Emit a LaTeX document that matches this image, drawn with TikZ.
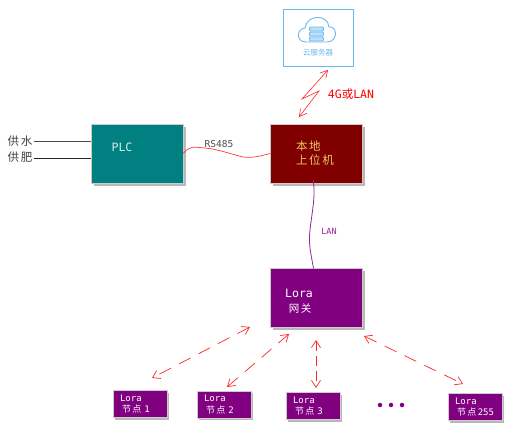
\documentclass[tikz,border=0pt]{standalone}
\usepackage{fontspec}
\usepackage{xcolor}
\usetikzlibrary{arrows.meta,positioning,shadows}
\setmonofont{DejaVu Sans Mono}
\newfontfamily\cjk[LetterSpace=14]{Noto Sans CJK SC}
\newfontfamily\cjkplain{Noto Sans CJK SC}
\definecolor{cloudblue}{RGB}{108,184,238}
\definecolor{hosttext}{RGB}{238,196,104}
\definecolor{lorapurple}{RGB}{128,0,128}
\definecolor{plcteal}{RGB}{0,128,128}
\definecolor{hostred}{RGB}{128,0,0}

\begin{document}
\begin{tikzpicture}[
  x=1pt,y=-1pt,
  bigbox/.style={draw=black!20,line width=0.4pt,minimum width=92pt,minimum height=59pt,inner sep=0pt,
                 drop shadow={shadow xshift=2.5pt,shadow yshift=-2.5pt,fill=black!28,opacity=1}},
  leafbox/.style={draw=black!20,line width=0.4pt,fill=lorapurple,text=white,minimum width=54pt,minimum height=27pt,
                  inner xsep=7pt,inner ysep=0pt,text width=40pt,align=left,font=\ttfamily\fontsize{9}{11.5}\selectfont,
                  drop shadow={shadow xshift=2pt,shadow yshift=-2pt,fill=black!28,opacity=1}},
  boxtext/.style={font=\ttfamily\fontsize{11.5}{14}\selectfont,align=left,inner sep=0pt},
  sidetext/.style={font=\cjk\fontsize{11.5}{14}\selectfont,text=black!75,inner sep=1pt},
  wire/.style={line width=0.7pt},
  radio/.style={red!85!white,line width=0.7pt,dash pattern=on 13pt off 9pt,{Straight Barb[length=7pt,width=9pt]}-{Straight Barb[length=7pt,width=9pt]}},
  cloudline/.style={cloudblue,line width=0.9pt,line join=round}
]
  % boxes
  \node[bigbox,fill=plcteal]    (plc)  at (137,153.5) {};
  \node[bigbox,fill=hostred]    (host) at (316.5,153.5) {};
  \node[bigbox,fill=lorapurple] (gate) at (316.5,298) {};
  \node[draw=cloudblue,line width=0.9pt,fill=white,minimum width=70pt,minimum height=57pt] (cloud) at (318,37.5) {};

  \node[boxtext,text=white!85!plcteal] (plctext) at (122,147) {PLC};
  \node[boxtext,text=hosttext,font=\cjk\fontsize{11.5}{14}\selectfont] (hosttxt) at (315,153) {本地\\上位机};
  \node[boxtext,text=white] (gatetxt) at (299,301) {Lora\\[1pt]{\cjk\fontsize{10.5}{13}\selectfont\ 网关}};

  % lora nodes
  \node[leafbox] (leaf1) at (140,404) {Lora\\\hspace*{2pt}{\cjk 节点} 1};
  \node[leafbox] (leaf2) at (224,404.5) {Lora\\\hspace*{2pt}{\cjk 节点} 2};
  \node[leafbox] (leaf3) at (313,406) {Lora\\\hspace*{2pt}{\cjk 节点} 3};
  \node[leafbox] (leaf4) at (475,407) {Lora\\\hspace*{2pt}\mbox{{\cjk 节点}\,255}};
  \foreach \dotx/\idx in {380/1,391/2,402/3}
    \node[circle,fill=lorapurple,inner sep=0pt,minimum size=4.5pt] (dot\idx) at (\dotx,405) {};

  % cloud icon
  \draw[cloudline] (306,42) .. controls (296,42) and (296,29) .. (305,28)
        .. controls (307,14) and (328,14) .. (329,27)
        .. controls (338,26) and (338,42) .. (327,42) -- cycle;
  \foreach \sy in {27,32,37}
    \draw[cloudline,line width=0.7pt,fill=cloudblue!45,rounded corners=0.8pt] (309.5,\sy) rectangle (323.5,\sy+4);
  \node[text=cloudblue,font=\cjkplain\fontsize{7.5}{9}\selectfont,inner sep=0pt] (cloudtext) at (318,52.5) {云服务器};

  % left inputs
  \node[sidetext] (water) at (20,141) {供水};
  \node[sidetext] (fert)  at (20,157) {供肥};
  \draw[wire,black!70] (water.east) -- (water.east -| plc.west);
  \draw[wire,black!85] ([yshift=-1pt]fert.east) -- ([yshift=-1pt]fert.east -| plc.west);

  % wired links
  \draw[wire,red!80!white] (plc.east) .. controls +(7,-8) and +(-12,-1) .. (205,148)
        .. controls +(12,1) and +(-12,-3) .. (243,157)
        .. controls +(10,1) and +(-12,3) .. (host.west);
  \node[font=\ttfamily\fontsize{9.5}{11}\selectfont,text=black!70,inner sep=0pt] (rs) at (219,144) {RS485};

  \coordinate (lantop) at ([xshift=-3.5pt,yshift=3pt]host.south);
  \coordinate (lanbot) at ([xshift=-3pt]gate.north);
  \draw[wire,lorapurple!85!white,line width=0.8pt] (lantop) .. controls +(3,14) and +(2,-18) .. (310,230)
        .. controls +(-2,14) and +(-2,-12) .. (lanbot);
  \node[font=\ttfamily\fontsize{8.5}{10}\selectfont,text=lorapurple!85!white,inner sep=0pt] (lan) at (329,231) {LAN};

  % radio links
  \coordinate (cloudend) at (328,70);
  \coordinate (hostend) at (299,117);
  \draw[red!85!white,line width=0.6pt,{Straight Barb[length=7pt,width=8pt]}-{Straight Barb[length=7pt,width=8pt]}]
        (cloudend) -- (302,99) -- (319,91) -- (hostend);
  \node[font=\ttfamily\fontsize{11.5}{14}\selectfont,text=red,inner sep=0pt] (net) at (351,94) {4G{\cjkplain 或}LAN};

  \coordinate (g1) at (250,327);  \coordinate (l1) at (152,378);
  \coordinate (g2) at (289,334);  \coordinate (l2) at (227,387);
  \coordinate (g3) at (316,340);  \coordinate (l3) at (316,388);
  \coordinate (g4) at (364,336);  \coordinate (l4) at (463,384);
  \foreach \idx in {1,2,4}
    \draw[radio] (g\idx) -- (l\idx);
  \draw[radio,dash pattern=on 10pt off 5pt] (g3) -- (l3);

  \useasboundingbox (0,0) rectangle (523,439);
\end{tikzpicture}
\end{document}
